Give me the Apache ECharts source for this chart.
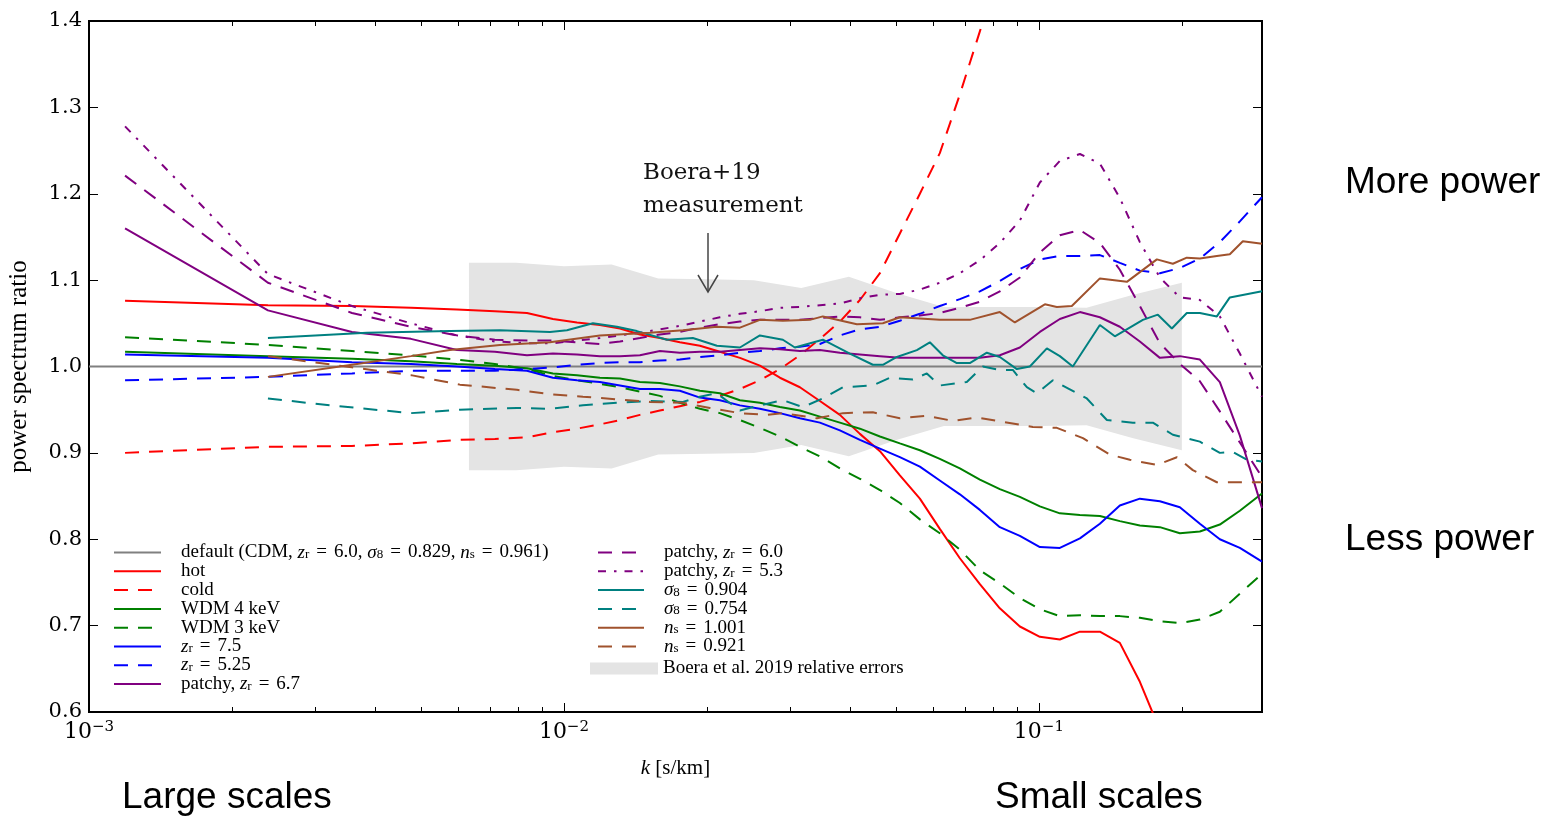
<!DOCTYPE html>
<html><head><meta charset="utf-8">
<script src="https://cdn.jsdelivr.net/npm/echarts@6/dist/echarts.min.js"></script>
<style>html,body{margin:0;padding:0;background:#fff}#chart{width:1544px;height:818px}</style>
</head><body><div id="chart"></div>
<script>
// ---- shared k grid (s/km) for the smooth curves ----
const K = [0.001191, 0.002381, 0.003578, 0.004763, 0.005953, 0.007155, 0.008358, 0.00948, 0.010651, 0.011905,
  0.013119, 0.014454, 0.015922, 0.017541, 0.019336, 0.021301, 0.023472, 0.02586, 0.028495, 0.031392,
  0.034589, 0.038111, 0.041996, 0.046275, 0.050974, 0.056163, 0.061864, 0.068175, 0.075124, 0.082757,
  0.091201, 0.10049, 0.11071, 0.12202, 0.13442, 0.14808, 0.16318, 0.1798, 0.19809, 0.21828,
  0.24046, 0.26497, 0.295];
const defaultK = [0.001, 0.295];
const defaultV = [1.0, 1.0];
const hot = [1.076, 1.071, 1.070, 1.068, 1.066, 1.064, 1.062, 1.055, 1.051, 1.048,
  1.044, 1.037, 1.033, 1.028, 1.024, 1.017, 1.010, 1.001, 0.987, 0.976,
  0.960, 0.944, 0.922, 0.902, 0.874, 0.847, 0.812, 0.778, 0.748, 0.720,
  0.699, 0.687, 0.684, 0.693, 0.693, 0.680, 0.635, 0.579, 0.524, null,
  null, null, null];
const cold = [0.900, 0.907, 0.908, 0.911, 0.915, 0.916, 0.918, 0.924, 0.928, 0.933,
  0.938, 0.944, 0.949, 0.954, 0.959, 0.966, 0.974, 0.984, 0.997, 1.013,
  1.032, 1.052, 1.077, 1.108, 1.154, 1.200, 1.247, 1.315, 1.388, 1.460,
  1.550, null, null, null, null, null, null, null, null, null,
  null, null, null];
const wdm4 = [1.017, 1.012, 1.009, 1.006, 1.003, 1.001, 0.998, 0.992, 0.990, 0.987,
  0.986, 0.982, 0.981, 0.977, 0.972, 0.969, 0.961, 0.958, 0.953, 0.949,
  0.942, 0.935, 0.928, 0.919, 0.911, 0.903, 0.893, 0.882, 0.869, 0.858,
  0.849, 0.838, 0.830, 0.828, 0.827, 0.821, 0.816, 0.814, 0.807, 0.809,
  0.817, 0.833, 0.853];
const wdm3 = [1.034, 1.025, 1.018, 1.013, 1.008, 1.003, 0.997, 0.989, 0.984, 0.980,
  0.976, 0.971, 0.966, 0.958, 0.951, 0.946, 0.938, 0.929, 0.919, 0.907,
  0.896, 0.882, 0.870, 0.857, 0.842, 0.823, 0.807, 0.788, 0.764, 0.749,
  0.732, 0.719, 0.711, 0.712, 0.711, 0.711, 0.709, 0.705, 0.703, 0.707,
  0.716, 0.737, 0.760];
const zr75 = [1.014, 1.010, 1.005, 1.003, 1.000, 0.997, 0.995, 0.987, 0.984, 0.982,
  0.978, 0.974, 0.974, 0.972, 0.964, 0.961, 0.955, 0.951, 0.946, 0.940,
  0.935, 0.926, 0.915, 0.905, 0.895, 0.884, 0.868, 0.852, 0.834, 0.814,
  0.804, 0.791, 0.790, 0.801, 0.818, 0.839, 0.847, 0.844, 0.837, 0.818,
  0.800, 0.790, 0.774];
const zr525 = [0.984, 0.988, 0.992, 0.995, 0.995, 0.995, 0.997, 0.999, 1.002, 1.004,
  1.005, 1.005, 1.007, 1.008, 1.011, 1.013, 1.016, 1.018, 1.021, 1.023,
  1.026, 1.036, 1.043, 1.046, 1.053, 1.061, 1.070, 1.078, 1.087, 1.099,
  1.113, 1.124, 1.128, 1.128, 1.129, 1.120, 1.111, 1.108, 1.114, 1.125,
  1.144, 1.168, 1.196];
const patchy67 = [1.160, 1.065, 1.040, 1.032, 1.019, 1.017, 1.013, 1.015, 1.014, 1.012,
  1.012, 1.013, 1.018, 1.016, 1.017, 1.017, 1.019, 1.021, 1.020, 1.018,
  1.019, 1.016, 1.014, 1.012, 1.010, 1.010, 1.010, 1.010, 1.010, 1.013,
  1.022, 1.040, 1.055, 1.063, 1.057, 1.046, 1.029, 1.010, 1.012, 1.008,
  0.982, 0.920, 0.836];
const patchy60 = [1.221, 1.097, 1.062, 1.046, 1.036, 1.031, 1.030, 1.030, 1.028, 1.026,
  1.029, 1.033, 1.037, 1.040, 1.045, 1.049, 1.052, 1.054, 1.054, 1.054,
  1.056, 1.058, 1.057, 1.054, 1.057, 1.059, 1.062, 1.068, 1.075, 1.087,
  1.103, 1.132, 1.152, 1.158, 1.143, 1.112, 1.070, 1.027, 1.003, 0.983,
  0.948, 0.912, 0.872];
const patchy53 = [1.278, 1.107, 1.070, 1.050, 1.036, 1.029, 1.027, 1.027, 1.030, 1.033,
  1.036, 1.039, 1.043, 1.047, 1.052, 1.057, 1.061, 1.064, 1.068, 1.069,
  1.071, 1.073, 1.079, 1.083, 1.084, 1.089, 1.097, 1.108, 1.123, 1.143,
  1.169, 1.213, 1.238, 1.246, 1.235, 1.195, 1.144, 1.103, 1.080, 1.077,
  1.058, 1.015, 0.965];
// ---- jagged curves, each with its own k samples ----
const s8hiK = [0.002381, 0.003848, 0.005754, 0.007332, 0.009344, 0.010147, 0.011509, 0.012929, 0.014244, 0.016474,
  0.018683, 0.020993, 0.023472, 0.02586, 0.028906, 0.030638, 0.035089, 0.039997, 0.044715, 0.046935,
  0.050238, 0.05535, 0.058937, 0.062767, 0.067187, 0.071552, 0.077706, 0.082757, 0.089878, 0.095729,
  0.10396, 0.11071, 0.1179, 0.13442, 0.14454, 0.16557, 0.17807, 0.19055, 0.20487, 0.21828,
  0.237, 0.2524, 0.295];
const s8hiV = [1.033, 1.039, 1.041, 1.042, 1.040, 1.042, 1.050, 1.046, 1.041, 1.031,
  1.033, 1.024, 1.022, 1.036, 1.031, 1.022, 1.031, 1.015, 1.002, 1.002,
  1.011, 1.019, 1.028, 1.013, 1.004, 1.004, 1.016, 1.011, 0.997, 1.000,
  1.021, 1.012, 1.000, 1.048, 1.035, 1.054, 1.060, 1.044, 1.062, 1.062,
  1.058, 1.080, 1.087];
const s8loK = [0.002381, 0.003217, 0.004763, 0.00604, 0.007961, 0.009344, 0.010965, 0.012929, 0.015171, 0.017805,
  0.019336, 0.020993, 0.023472, 0.02586, 0.028906, 0.031852, 0.035089, 0.03867, 0.044715, 0.048564,
  0.054288, 0.058086, 0.061864, 0.070517, 0.076214, 0.082757, 0.08815, 0.094348, 0.099035, 0.10703,
  0.12619, 0.13905, 0.15773, 0.17378, 0.19148, 0.21828, 0.24046, 0.2561, 0.27409, 0.295];
const s8loV = [0.963, 0.955, 0.946, 0.950, 0.952, 0.951, 0.955, 0.958, 0.960, 0.959,
  0.965, 0.969, 0.949, 0.955, 0.961, 0.953, 0.963, 0.976, 0.978, 0.987,
  0.985, 0.992, 0.978, 0.982, 1.000, 0.996, 0.996, 0.976, 0.969, 0.984,
  0.963, 0.938, 0.935, 0.935, 0.921, 0.913, 0.900, 0.901, 0.892, 0.890];
const nshiK = [0.002381, 0.003578, 0.004763, 0.005754, 0.007332, 0.009344, 0.011905, 0.015171, 0.017805, 0.020993,
  0.023472, 0.02586, 0.028906, 0.032951, 0.035089, 0.041376, 0.046935, 0.050974, 0.061864, 0.071552,
  0.082757, 0.08901, 0.10295, 0.10911, 0.11733, 0.13442, 0.1532, 0.17721, 0.19148, 0.20487,
  0.21828, 0.237, 0.2524, 0.26883, 0.295];
const nshiV = [0.988, 1.002, 1.012, 1.019, 1.025, 1.028, 1.036, 1.039, 1.042, 1.046,
  1.045, 1.054, 1.053, 1.054, 1.058, 1.049, 1.050, 1.057, 1.054, 1.054,
  1.063, 1.051, 1.072, 1.069, 1.070, 1.102, 1.098, 1.124, 1.119, 1.126,
  1.125, 1.128, 1.130, 1.145, 1.142];
const nsloK = [0.002381, 0.003578, 0.004763, 0.00604, 0.007961, 0.009344, 0.010965, 0.012929, 0.015171, 0.017805,
  0.020293, 0.023472, 0.026752, 0.028906, 0.034082, 0.03867, 0.044715, 0.050974, 0.058086, 0.065907,
  0.074022, 0.083966, 0.097133, 0.10911, 0.12381, 0.14108, 0.15544, 0.17721, 0.19523, 0.21094,
  0.237, 0.295];
const nsloV = [1.012, 0.999, 0.990, 0.979, 0.973, 0.968, 0.965, 0.962, 0.959, 0.958,
  0.952, 0.946, 0.944, 0.946, 0.940, 0.946, 0.947, 0.940, 0.943, 0.937,
  0.941, 0.936, 0.930, 0.929, 0.917, 0.898, 0.892, 0.886, 0.895, 0.880,
  0.866, 0.866];
// ---- Boera et al. 2019 relative errors ----
const bandK = [0.00631, 0.00794, 0.01, 0.0126, 0.0158, 0.02, 0.0251, 0.0316, 0.0398, 0.0501, 0.0631, 0.0794, 0.1, 0.126, 0.158, 0.2];
const bandErr = [0.120, 0.120, 0.116, 0.118, 0.102, 0.101, 0.100, 0.091, 0.104, 0.085, 0.069, 0.069, 0.069, 0.068, 0.083, 0.097];
// ---- ticks ----
const majorTicks = [0.001, 0.01, 0.1];
const minorTicks = [0.002, 0.003, 0.004, 0.005, 0.006, 0.007, 0.008, 0.009,
  0.02, 0.03, 0.04, 0.05, 0.06, 0.07, 0.08, 0.09, 0.2];

const chart = echarts.init(document.getElementById('chart'), null, {renderer: 'canvas'});
const pairs = (ks, vs) => ks.map((k, i) => [k, vs[i]]).filter(p => p[1] !== null);

const DASH = [14, 10];
const DASHDOT = [8, 8, 2.5, 8];
const spec = [
  ['default', defaultK, defaultV, '#808080', 'solid'],
  ['hot', K, hot, '#ff0000', 'solid'],
  ['cold', K, cold, '#ff0000', DASH],
  ['WDM 4 keV', K, wdm4, '#008000', 'solid'],
  ['WDM 3 keV', K, wdm3, '#008000', DASH],
  ['zr = 7.5', K, zr75, '#0000ff', 'solid'],
  ['zr = 5.25', K, zr525, '#0000ff', DASH],
  ['patchy, zr = 6.7', K, patchy67, '#800080', 'solid'],
  ['patchy, zr = 6.0', K, patchy60, '#800080', DASH],
  ['patchy, zr = 5.3', K, patchy53, '#800080', DASHDOT],
  ['s8 = 0.904', s8hiK, s8hiV, '#008080', 'solid'],
  ['s8 = 0.754', s8loK, s8loV, '#008080', DASH],
  ['ns = 1.001', nshiK, nshiV, '#a0522d', 'solid'],
  ['ns = 0.921', nsloK, nsloV, '#a0522d', DASH]
];
const labels = {
  'default': 'default (CDM, {i|z}{s|r}{e|=}6.0, {i|σ}{s|8}{e|=}0.829, {i|n}{s|s}{e|=}0.961)',
  'hot': 'hot', 'cold': 'cold', 'WDM 4 keV': 'WDM 4 keV', 'WDM 3 keV': 'WDM 3 keV',
  'zr = 7.5': '{i|z}{s|r}{e|=}7.5', 'zr = 5.25': '{i|z}{s|r}{e|=}5.25',
  'patchy, zr = 6.7': 'patchy, {i|z}{s|r}{e|=}6.7',
  'patchy, zr = 6.0': 'patchy, {i|z}{s|r}{e|=}6.0',
  'patchy, zr = 5.3': 'patchy, {i|z}{s|r}{e|=}5.3',
  's8 = 0.904': '{i|σ}{s|8}{e|=}0.904', 's8 = 0.754': '{i|σ}{s|8}{e|=}0.754',
  'ns = 1.001': '{i|n}{s|s}{e|=}1.001', 'ns = 0.921': '{i|n}{s|s}{e|=}0.921'
};
const BAND = 'Boera et al. 2019 relative errors';

const serif = 'Liberation Serif';
const LH = 17;
const legRich = {
  g: {width: 15, fontSize: 19, lineHeight: LH},
  i: {fontFamily: serif, fontStyle: 'italic', fontSize: 19, lineHeight: LH, color: '#000'},
  e: {fontFamily: serif, fontSize: 19, lineHeight: LH, color: '#000', padding: [0, 7, 0, 7]},
  s: {fontFamily: serif, fontSize: 13, lineHeight: 7, verticalAlign: 'bottom', color: '#000'}
};
const legBase = {fontFamily: serif, fontSize: 19, lineHeight: LH, color: '#000', rich: legRich};

const series = [{
  type: 'custom', name: BAND, silent: true, z: 1,
  data: bandK.map((k, i) => [k, 1 - bandErr[i], 1 + bandErr[i]]),
  encode: {x: 0, y: [1, 2]},
  itemStyle: {color: '#e4e4e4'},
  renderItem: function (params, api) {
    if (params.dataIndex !== 0) return null;
    const up = [], lo = [];
    for (let i = 0; i < bandK.length; i++) {
      up.push(api.coord([bandK[i], 1 + bandErr[i]]));
      lo.push(api.coord([bandK[i], 1 - bandErr[i]]));
    }
    return {type: 'polygon', shape: {points: up.concat(lo.reverse())}, style: {fill: '#e4e4e4'}};
  }
}].concat(spec.map((s, idx) => ({
  type: 'line', name: s[0], data: pairs(s[1], s[2]), symbol: 'none', silent: true,
  z: 2 + idx, clip: true, smooth: false,
  lineStyle: {color: s[3], width: 2, type: s[4]}, itemStyle: {color: s[3]}
})));

const tickStyle = {color: '#000', width: 1};
const xBase = {type: 'log', logBase: 10, min: 0.001, max: 0.295, gridIndex: 0,
  axisLine: {show: false, onZero: false}, splitLine: {show: false}, axisLabel: {show: false}};
const yBase = {type: 'value', min: 0.6, max: 1.4, interval: 0.1,
  axisLine: {show: false, onZero: false}, splitLine: {show: false},
  axisTick: {show: true, inside: true, length: 9, lineStyle: tickStyle}};

const legendCommon = {orient: 'vertical', padding: 0, itemHeight: 14, itemGap: -0.2, selectedMode: false,
  lineStyle: {width: 2}, itemStyle: {opacity: 0, borderWidth: 0}, textStyle: legBase,
  formatter: n => '{g| }' + labels[n]};

const option = {
  animation: false,
  backgroundColor: '#fff',
  grid: {left: 89, top: 21, width: 1173, height: 691, containLabel: false, outerBoundsMode: 'none',
    show: true, borderColor: '#000', borderWidth: 2, backgroundColor: 'transparent'},
  xAxis: [
    Object.assign({}, xBase, {position: 'bottom',
      axisTick: {show: true, inside: true, length: 9, lineStyle: tickStyle, customValues: majorTicks},
      axisLabel: {show: true, margin: 8, customValues: majorTicks, color: '#000',
        formatter: v => '{b|10}{e|−' + Math.round(-Math.log10(v)) + '}',
        rich: {b: {fontFamily: 'DejaVu Serif', fontSize: 22, lineHeight: 24, color: '#000'},
               e: {fontFamily: 'DejaVu Serif', fontSize: 15, lineHeight: 10, verticalAlign: 'top', color: '#000'}}},
      name: '{i|k} [s/km]', nameLocation: 'middle', nameGap: 46,
      nameTextStyle: {fontFamily: serif, fontSize: 21, color: '#000',
        rich: {i: {fontFamily: serif, fontStyle: 'italic', fontSize: 21, color: '#000'}}}}),
    Object.assign({}, xBase, {position: 'bottom',
      axisTick: {show: true, inside: true, length: 5, lineStyle: tickStyle, customValues: minorTicks}}),
    Object.assign({}, xBase, {position: 'top',
      axisTick: {show: true, inside: true, length: 9, lineStyle: tickStyle, customValues: majorTicks}}),
    Object.assign({}, xBase, {position: 'top',
      axisTick: {show: true, inside: true, length: 5, lineStyle: tickStyle, customValues: minorTicks}})
  ],
  yAxis: [
    Object.assign({}, yBase, {position: 'left',
      axisLabel: {show: true, margin: 7, color: '#000', fontFamily: 'DejaVu Serif', fontSize: 21,
        formatter: v => v.toFixed(1)},
      name: 'power spectrum ratio', nameLocation: 'middle', nameRotate: 90, nameGap: 57,
      nameTextStyle: {fontFamily: serif, fontSize: 25, color: '#000'}}),
    Object.assign({}, yBase, {position: 'right', axisLabel: {show: false}})
  ],
  legend: [
    Object.assign({}, legendCommon, {data: spec.slice(0, 8).map(s => s[0]), left: 113, top: 543, itemWidth: 47}),
    Object.assign({}, legendCommon, {data: spec.slice(8).map(s => s[0]), left: 597, top: 543, itemWidth: 46}),
    {data: [{name: BAND, icon: 'rect'}], orient: 'vertical', left: 590, top: 659, padding: 0,
      itemWidth: 68, itemHeight: 12, selectedMode: false, textStyle: legBase}
  ],
  graphic: [
    {type: 'text', z: 100, x: 643, y: 173, style: {text: 'Boera+19', font: '23px "DejaVu Serif"', fill: '#111', align: 'left', verticalAlign: 'middle'}},
    {type: 'text', z: 100, x: 643, y: 206, style: {text: 'measurement', font: '23px "DejaVu Serif"', fill: '#111', align: 'left', verticalAlign: 'middle'}},
    {type: 'line', z: 100, shape: {x1: 708, y1: 233, x2: 708, y2: 292}, style: {stroke: '#444', lineWidth: 1.5}},
    {type: 'polyline', z: 100, shape: {points: [[698, 275], [708, 292], [718, 275]]}, style: {stroke: '#444', lineWidth: 1.5, fill: null}},
    {type: 'text', x: 1345, y: 183, style: {text: 'More power', font: '37px "Liberation Sans"', fill: '#000', align: 'left', verticalAlign: 'middle'}},
    {type: 'text', x: 1345, y: 540, style: {text: 'Less power', font: '37px "Liberation Sans"', fill: '#000', align: 'left', verticalAlign: 'middle'}},
    {type: 'text', x: 122, y: 798, style: {text: 'Large scales', font: '37px "Liberation Sans"', fill: '#000', align: 'left', verticalAlign: 'middle'}},
    {type: 'text', x: 995, y: 798, style: {text: 'Small scales', font: '37px "Liberation Sans"', fill: '#000', align: 'left', verticalAlign: 'middle'}}
  ],
  series: series
};
chart.setOption(option);
</script></body></html>
